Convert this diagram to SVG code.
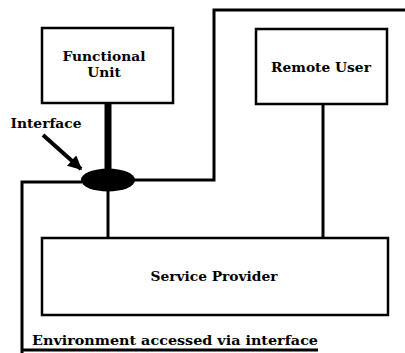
<svg xmlns="http://www.w3.org/2000/svg" width="405" height="353" viewBox="0 0 405 353">
<style>
.box{fill:#fff;stroke:#000;stroke-width:2.5}
.t{font-family:"DejaVu Serif","Liberation Serif",serif;font-weight:bold;font-size:13.8px;fill:#000;text-anchor:middle}
.ln{fill:none;stroke:#000;stroke-width:3}
</style>
<defs>
<marker id="ah" viewBox="0 0 10 10" refX="9" refY="5" markerWidth="3.5" markerHeight="3.5" orient="auto">
<path d="M0,0 L10,5 L0,10 z" fill="#000"/>
</marker>
</defs>
<rect width="405" height="353" fill="#fff"/>
<g id="connectors">
<path class="ln" d="M405,10 L214,10 L214,180 L134,180"/>
<path class="ln" d="M82,182 L22,182 L22,353"/>
<path class="ln" d="M22,350 L318,350" stroke-width="2"/>
<line x1="108" y1="103" x2="108" y2="170" stroke="#000" stroke-width="7"/>
<line x1="108" y1="190" x2="108" y2="238" stroke="#000" stroke-width="3"/>
<line x1="323" y1="104" x2="323" y2="238" stroke="#000" stroke-width="3"/>
<line x1="43" y1="135" x2="81" y2="169" stroke="#000" stroke-width="4" marker-end="url(#ah)"/>
</g>
<g id="functional-unit">
<rect class="box" x="42" y="28" width="131" height="75"/>
<text class="t" x="104" y="61">Functional</text>
<text class="t" x="104" y="77">Unit</text>
</g>
<g id="remote-user">
<rect class="box" x="256" y="29" width="131" height="75"/>
<text class="t" x="321" y="72">Remote User</text>
</g>
<g id="interface">
<ellipse cx="108" cy="180" rx="27" ry="11.5" fill="#000"/>
<text class="t" x="46" y="128">Interface</text>
</g>
<g id="service-provider">
<rect class="box" x="42" y="238" width="346" height="77"/>
<text class="t" x="214" y="281">Service Provider</text>
</g>
<g id="environment">
<text class="t" x="175" y="345" textLength="286" lengthAdjust="spacingAndGlyphs">Environment accessed via interface</text>
</g>
</svg>
